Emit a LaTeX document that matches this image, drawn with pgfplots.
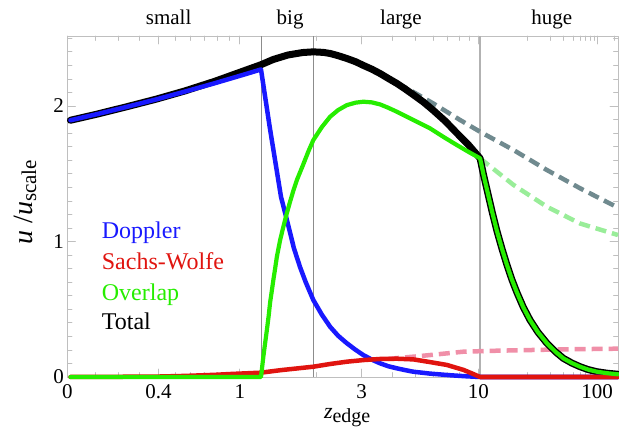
\documentclass[border=0pt]{standalone}
\usepackage{fontspec}
\setmainfont{Liberation Serif}
\usepackage{pgfplots}
\pgfplotsset{compat=1.18}

\definecolor{cdop}{rgb}{0.10,0.10,1.00}
\definecolor{csw}{rgb}{0.88,0.08,0.06}
\definecolor{cov}{rgb}{0.15,0.93,0.00}
\definecolor{cgray}{rgb}{0.44,0.54,0.56}
\definecolor{clgreen}{rgb}{0.60,0.93,0.60}
\definecolor{cpink}{rgb}{0.94,0.56,0.66}
\definecolor{cframe}{rgb}{0.75,0.75,0.75}

% x is the Einstein-de Sitter comoving distance 2(1-1/sqrt(1+z)); ticks are labelled in z
\begin{document}
\begin{tikzpicture}
\useasboundingbox (-67.5bp,-53bp) rectangle (551.5bp,377bp);
\begin{axis}[
    at={(0,0)}, anchor=south west,
    scale only axis,
    width=550.5bp, height=341bp,
    xmin=0, xmax=1.872, ymin=0, ymax=2.517,
    clip=false,
    axis line style={draw=cframe, line width=0.8bp},
    xtick={0,0.30970,0.58579,1,1.39698,1.80099},
    xticklabels={0,0.4,1,3,10,100},
    minor xtick={0.09307,0.17426,0.24588,0.36701,0.41886,0.46608,0.50928,0.54904,
                 0.84530,1.10557,1.18350,1.24407,1.29289,1.33333,1.36754,
                 1.56356,1.64078,1.68766,1.71994,1.74392,1.76264,1.77778,1.79034,1.85893},
    ytick={0,1,2},
    minor ytick={0.1,0.2,0.3,0.4,0.5,0.6,0.7,0.8,0.9,1.1,1.2,1.3,1.4,1.5,1.6,1.7,1.8,1.9,2.1,2.2,2.3,2.4,2.5},
    tick align=inside,
    major tick length=8bp, minor tick length=4.5bp,
    every tick/.style={cframe, line width=0.7bp},
    tick label style={font=\fontsize{21bp}{21bp}\selectfont, black},
    xticklabel style={yshift=-4bp},
    /pgf/number format/assume math mode=true,
    line cap=round, line join=round,
]
% reference lines
\addplot[black!45, line width=1bp, line cap=butt] coordinates {(0.6595,0) (0.6595,2.517)};
\addplot[black!45, line width=1bp, line cap=butt] coordinates {(0.8370,0) (0.8370,2.517)};
\addplot[black!30, line width=1.2bp, line cap=butt] coordinates {(1.4030,0) (1.4030,2.517)};

% continuations (dashed)
\addplot[cgray, line width=4.5bp, line cap=butt, dash pattern=on 11bp off 6bp] coordinates {
 (1.120,2.167) (1.154,2.131) (1.243,2.020) (1.335,1.897) (1.403,1.810)
 (1.517,1.675) (1.630,1.528) (1.743,1.393) (1.872,1.250)};
\addplot[clgreen, line width=4.5bp, line cap=butt, dash pattern=on 11bp off 6bp] coordinates {
 (1.403,1.614) (1.517,1.417) (1.630,1.257) (1.743,1.133) (1.872,1.048)};
\addplot[cpink, line width=4.5bp, line cap=butt, dash pattern=on 11bp off 6bp] coordinates {
 (1.090,0.134) (1.176,0.150) (1.233,0.162) (1.347,0.187) (1.460,0.194)
 (1.573,0.199) (1.686,0.204) (1.872,0.209)};

% Total
\addplot[black, line width=7bp] coordinates {
 (0.010,1.895) (0.100,1.940) (0.200,1.994) (0.300,2.050) (0.400,2.112) (0.500,2.182)
 (0.600,2.260) (0.658,2.305) (0.700,2.344) (0.750,2.377) (0.800,2.395) (0.836,2.400)
 (0.870,2.396) (0.893,2.388) (0.920,2.372) (0.950,2.351) (0.980,2.327) (1.006,2.300)
 (1.035,2.272) (1.063,2.240) (1.090,2.205) (1.120,2.167) (1.147,2.128) (1.175,2.085)
 (1.210,2.030) (1.243,1.970) (1.285,1.888) (1.324,1.800) (1.365,1.710) (1.403,1.614)
 (1.415,1.490) (1.430,1.350) (1.445,1.210) (1.460,1.080) (1.477,0.950) (1.494,0.830)
 (1.511,0.720) (1.528,0.625) (1.550,0.515) (1.573,0.420) (1.600,0.330) (1.630,0.250)
 (1.660,0.185) (1.686,0.138) (1.715,0.103) (1.743,0.076) (1.770,0.055) (1.800,0.039)
 (1.835,0.028) (1.872,0.020)};
% Doppler
\addplot[cdop, line width=4.5bp] coordinates {
 (0.010,1.895) (0.100,1.940) (0.200,1.993) (0.300,2.048) (0.400,2.107) (0.500,2.168)
 (0.600,2.232) (0.658,2.270) (0.688,1.840) (0.726,1.330) (0.746,1.160) (0.770,0.950)
 (0.791,0.810) (0.810,0.700) (0.836,0.568) (0.865,0.460) (0.893,0.371) (0.920,0.305)
 (0.950,0.249) (0.980,0.200) (1.006,0.162) (1.035,0.128) (1.063,0.101) (1.090,0.080)
 (1.120,0.064) (1.150,0.050) (1.176,0.039) (1.233,0.025) (1.301,0.013) (1.350,0.006)
 (1.403,0.000) (1.872,0.000)};
% Sachs-Wolfe
\addplot[csw, line width=4.5bp] coordinates {
 (0.010,0.000) (0.300,0.003) (0.400,0.008) (0.500,0.016) (0.553,0.022) (0.658,0.032)
 (0.723,0.050) (0.836,0.076) (0.893,0.096) (0.950,0.113) (1.006,0.125) (1.063,0.133)
 (1.120,0.135) (1.176,0.130) (1.233,0.110) (1.290,0.089) (1.347,0.052) (1.380,0.022)
 (1.403,0.000) (1.872,0.000)};
% Overlap
\addplot[cov, line width=4.2bp] coordinates {
 (0.010,0.000) (0.658,0.000) (0.662,0.075) (0.666,0.150) (0.672,0.250) (0.678,0.347)
 (0.684,0.450) (0.689,0.550) (0.695,0.640) (0.700,0.716) (0.706,0.800) (0.712,0.888)
 (0.723,1.010) (0.734,1.109) (0.746,1.210) (0.757,1.295) (0.768,1.375) (0.780,1.454)
 (0.800,1.560) (0.820,1.670) (0.836,1.749) (0.865,1.845) (0.893,1.921) (0.920,1.970)
 (0.950,2.007) (0.980,2.025) (1.006,2.032) (1.035,2.027) (1.063,2.012) (1.090,1.988)
 (1.120,1.958) (1.176,1.897) (1.233,1.835) (1.280,1.770) (1.324,1.712) (1.365,1.660)
 (1.403,1.614)
 (1.415,1.490) (1.430,1.350) (1.445,1.210) (1.460,1.080) (1.477,0.950) (1.494,0.830)
 (1.511,0.720) (1.528,0.625) (1.550,0.515) (1.573,0.420) (1.600,0.330) (1.630,0.250)
 (1.660,0.185) (1.686,0.138) (1.715,0.103) (1.743,0.076) (1.770,0.055) (1.800,0.039)
 (1.835,0.028) (1.872,0.020)};

% regime labels
\path[font=\fontsize{21bp}{21bp}\selectfont]
  (axis cs:0.344,2.517) node[anchor=base, yshift=11bp] {small}
  (axis cs:0.757,2.517) node[anchor=base, yshift=11bp] {big}
  (axis cs:1.134,2.517) node[anchor=base, yshift=11bp] {large}
  (axis cs:1.647,2.517) node[anchor=base, yshift=11bp] {huge};

% legend
\path[font=\fontsize{24bp}{24bp}\selectfont]
  (axis cs:0.1163,1.024) node[anchor=base west, inner sep=0pt, text=cdop] {Doppler}
  (axis cs:0.1163,0.795) node[anchor=base west, inner sep=0pt, text=csw] {Sachs-Wolfe}
  (axis cs:0.1163,0.561) node[anchor=base west, inner sep=0pt, text=cov] {Overlap}
  (axis cs:0.1163,0.347) node[anchor=base west, inner sep=0pt, text=black] {Total};

% axis labels
\node[rotate=90, font=\fontsize{28bp}{28bp}\selectfont] at (axis cs:-0.1446,1.29)
  {\textit{u}~/\textit{u}\raisebox{-0.3ex}{\fontsize{21bp}{21bp}\selectfont scale}};
\node[anchor=base, font=\fontsize{22bp}{22bp}\selectfont] at (axis cs:0.951,-0.31)
  {\textit{z}\raisebox{-0.3ex}{\fontsize{20bp}{20bp}\selectfont edge}};
\end{axis}
\end{tikzpicture}
\end{document}
